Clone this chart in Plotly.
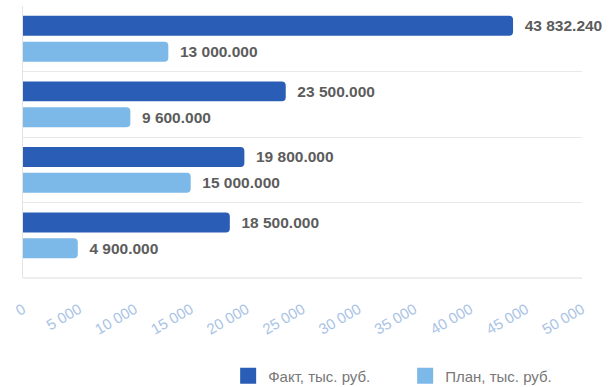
import plotly.graph_objects as go

categories = ["Категория 1", "Категория 2", "Категория 3", "Категория 4"]
fact = [43832.24, 23500.0, 19800.0, 18500.0]
plan = [13000.0, 9600.0, 15000.0, 4900.0]
x_ticks = [0, 5000, 10000, 15000, 20000, 25000, 30000, 35000, 40000, 45000, 50000]
series_names = ["Факт, тыс. руб.", "План, тыс. руб."]
colors = ["#2a5db5", "#7cb8e8"]


def fmt(v):
    return "\u00a0\u00a0" + f"{v:,.3f}".replace(",", " ")


fig = go.Figure()
for vals, name, col in [(fact, series_names[0], colors[0]), (plan, series_names[1], colors[1])]:
    fig.add_trace(go.Bar(
        y=categories, x=vals, orientation="h", name=name, showlegend=False,
        marker=dict(color=col, line=dict(width=0)),
        text=[fmt(v) for v in vals], textposition="outside", constraintext="none",
        textfont=dict(family="Liberation Sans, Arial", size=15.5, color="#5c5c5c", weight="bold"),
        cliponaxis=False,
    ))
# legend entries with larger square swatches
for name, col in zip(series_names, colors):
    fig.add_trace(go.Scatter(
        x=[None], y=[None], mode="markers", name=name,
        marker=dict(symbol="square", size=16, color=col),
        showlegend=True,
    ))

fig.update_layout(
    width=610, height=387,
    margin=dict(l=23, r=28, t=6, b=109, autoexpand=False),
    paper_bgcolor="white", plot_bgcolor="white",
    barmode="group", bargap=0.21, bargroupgap=0.23,
    barcornerradius=4,
    separators=". ",
    legend=dict(orientation="h", x=0.367, xanchor="left", y=-0.36, yanchor="middle",
                font=dict(family="Liberation Sans, Arial", size=15, color="#777777"),
                entrywidth=132, entrywidthmode="pixels", traceorder="normal"),
    xaxis=dict(range=[0, 50000], tickvals=x_ticks, tickformat=",d",
               tickangle=-30, showgrid=False, zeroline=False, automargin=False,
               showline=False, ticks="outside", ticklen=16, tickcolor="rgba(0,0,0,0)",
               tickfont=dict(family="Liberation Sans, Arial", size=15, color="#a9c3e6")),
    yaxis=dict(type="category", range=[3.65, -0.5], showticklabels=False,
               showgrid=True, gridcolor="#e8e8e8", gridwidth=1, tickson="boundaries",
               ticks="", showline=True, linecolor="#e4e4e4", zeroline=False,
               automargin=False),
)
fig.add_shape(type="line", xref="paper", yref="paper", x0=0, x1=1, y0=0, y1=0,
              line=dict(color="#dddddd", width=1))

fig.write_html("out.html")
